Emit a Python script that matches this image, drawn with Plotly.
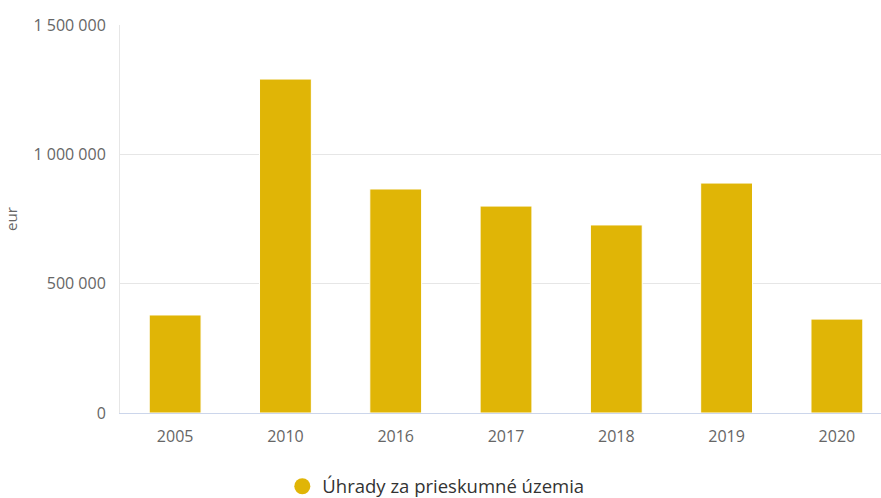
import plotly.graph_objects as go

years = ["2005", "2010", "2016", "2017", "2018", "2019", "2020"]
values = [379000, 1291000, 866000, 800000, 727000, 889000, 363000]
series_name = "Úhrady za prieskumné územia"
y_ticks = [0, 500000, 1000000, 1500000]
y_tick_labels = ["0", "500 000", "1 000 000", "1 500 000"]

fig = go.Figure()
fig.add_trace(go.Bar(
    x=years, y=values, name=series_name,
    marker=dict(color="#e0b506", line=dict(color="#ffffff", width=1)),
    showlegend=False,
))
fig.add_trace(go.Scatter(
    x=[None], y=[None], mode="markers", name=series_name,
    marker=dict(color="#e0b506", size=18, symbol="circle"),
    showlegend=True,
))

fig.update_layout(
    width=881, height=498,
    margin=dict(l=120, r=0, t=25, b=85, autoexpand=False),
    paper_bgcolor="white", plot_bgcolor="white",
    font=dict(family="Open Sans", size=16, color="#666666"),
    bargap=0.53,
    legend=dict(orientation="h", x=0.415, xanchor="center", y=-0.19, yanchor="middle",
                font=dict(size=18.5, color="#333333")),
    xaxis=dict(type="category", range=[-0.5, 6.4], showgrid=False, automargin=False,
               showline=True, linecolor="#ccd6eb", linewidth=1, ticks="",
               ticklabelstandoff=9,
               tickfont=dict(size=16, color="#666666")),
    yaxis=dict(range=[0, 1500000], tickvals=y_ticks, ticktext=y_tick_labels, automargin=False,
               showgrid=True, gridcolor="#e6e6e6", gridwidth=1, zeroline=False,
               showline=True, linecolor="#e6e6e6", ticks="", ticklen=0,
               ticklabelstandoff=10,
               title=dict(text="eur", font=dict(size=15, color="#666666"), standoff=12),
               tickfont=dict(size=16, color="#666666")),
)

fig.write_html("out.html", config={"displayModeBar": False},
               post_script="document.body.style.margin='0';")
